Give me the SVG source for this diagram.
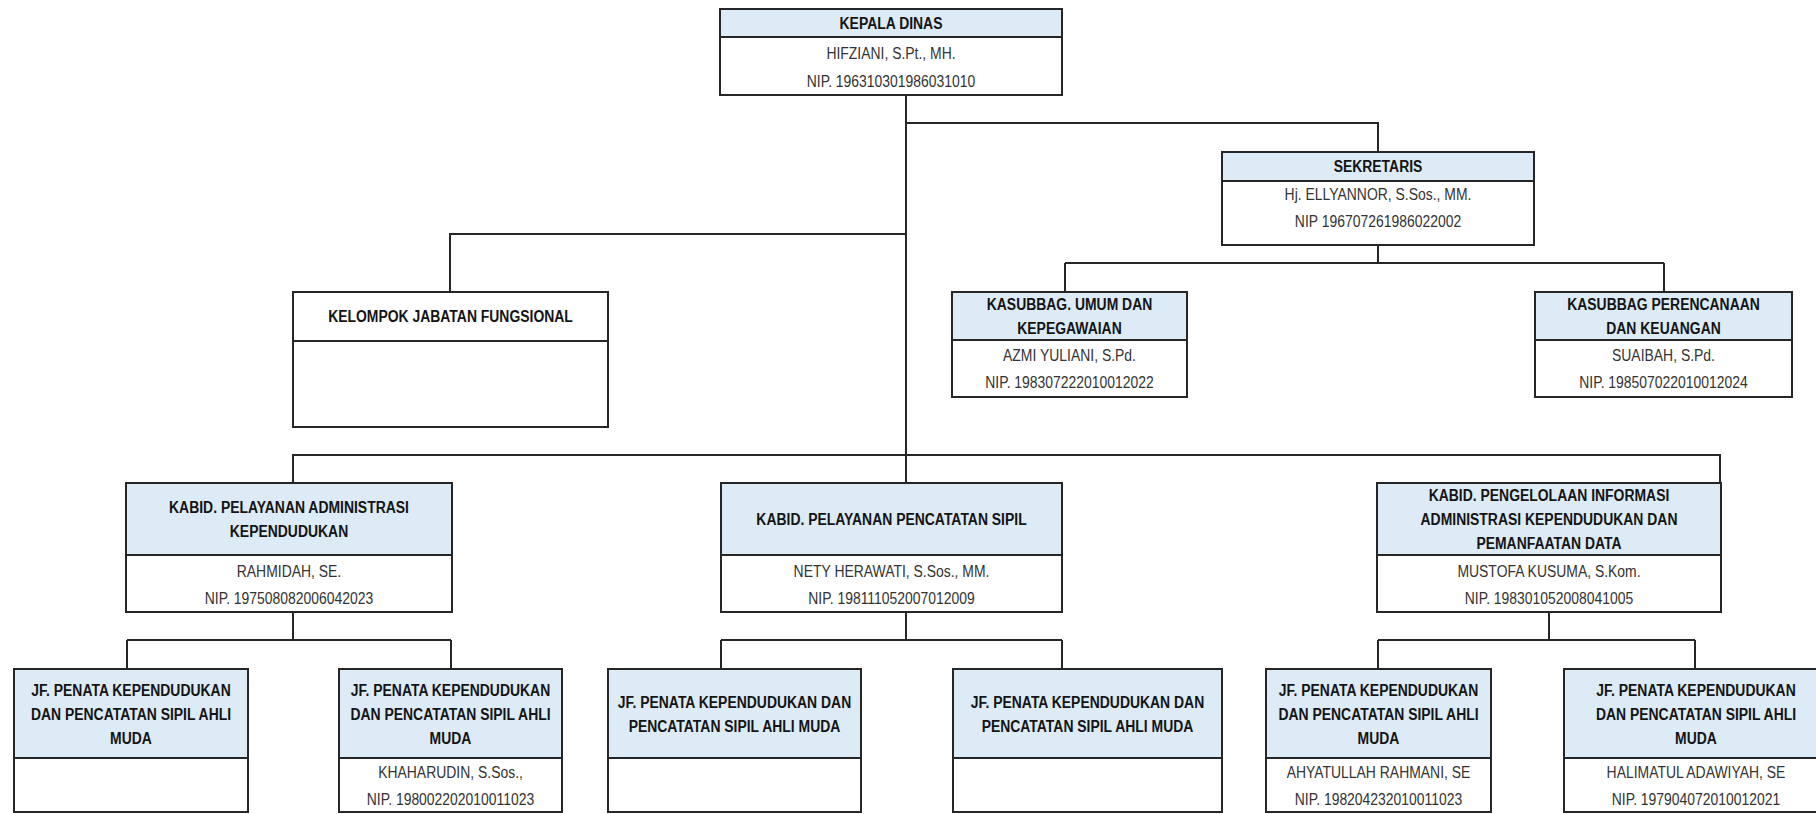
<svg xmlns="http://www.w3.org/2000/svg" width="1816" height="814" viewBox="0 0 1816 814">
<style>
.b{fill:#fff;stroke:#262626;stroke-width:2}
.h{fill:#DDEBF7;stroke:#262626;stroke-width:2}
.c{stroke:#262626;stroke-width:2;fill:none}
.t{font-family:"Liberation Sans",Arial,sans-serif;font-size:17px;fill:#333;text-anchor:middle}
.tb{font-weight:bold;fill:#141414}
</style>
<rect width="1816" height="814" fill="#fff"/>
<g id="connectors" class="c">
<path d="M906 95V483"/>
<path d="M906 123H1378V152"/>
<path d="M906 234H450V292"/>
<path d="M1378 245V263M1065 263H1664M1065 263V292M1664 263V292"/>
<path d="M293 483V455H1720V483"/>
<path d="M293 612V640M127 640H451M127 640V669M451 640V669"/>
<path d="M906 612V640M721 640H1062M721 640V669M1062 640V669"/>
<path d="M1549 612V640M1378 640H1695M1378 640V669M1695 640V669"/>
</g>
<g id="kepala">
<rect class="b" x="720" y="9" width="342" height="86"/>
<rect class="h" x="720" y="9" width="342" height="28"/>
<text class="t tb" transform="translate(891 29) scale(0.82 1)">KEPALA DINAS</text>
<text class="t" transform="translate(891 59) scale(0.82 1)">HIFZIANI, S.Pt., MH.</text>
<text class="t" transform="translate(891 87) scale(0.82 1)">NIP. 196310301986031010</text>
</g>
<g id="sekretaris">
<rect class="b" x="1222" y="152" width="312" height="93"/>
<rect class="h" x="1222" y="152" width="312" height="29"/>
<text class="t tb" transform="translate(1378 172) scale(0.82 1)">SEKRETARIS</text>
<text class="t" transform="translate(1378 200) scale(0.82 1)">Hj. ELLYANNOR, S.Sos., MM.</text>
<text class="t" transform="translate(1378 227) scale(0.82 1)">NIP 196707261986022002</text>
</g>
<g id="kelompok">
<rect class="b" x="293" y="292" width="315" height="135"/>
<line class="c" x1="293" y1="341" x2="608" y2="341"/>
<text class="t tb" transform="translate(450.5 322) scale(0.82 1)">KELOMPOK JABATAN FUNGSIONAL</text>
</g>
<g id="kasubbag-umum">
<rect class="b" x="952" y="292" width="235" height="105"/>
<rect class="h" x="952" y="292" width="235" height="48"/>
<text class="t tb" transform="translate(1069.5 310) scale(0.82 1)">KASUBBAG. UMUM DAN</text>
<text class="t tb" transform="translate(1069.5 334) scale(0.82 1)">KEPEGAWAIAN</text>
<text class="t" transform="translate(1069.5 361) scale(0.82 1)">AZMI YULIANI, S.Pd.</text>
<text class="t" transform="translate(1069.5 388) scale(0.82 1)">NIP. 198307222010012022</text>
</g>
<g id="kasubbag-perencanaan">
<rect class="b" x="1535" y="292" width="257" height="105"/>
<rect class="h" x="1535" y="292" width="257" height="48"/>
<text class="t tb" transform="translate(1663.5 310) scale(0.82 1)">KASUBBAG PERENCANAAN</text>
<text class="t tb" transform="translate(1663.5 334) scale(0.82 1)">DAN KEUANGAN</text>
<text class="t" transform="translate(1663.5 361) scale(0.82 1)">SUAIBAH, S.Pd.</text>
<text class="t" transform="translate(1663.5 388) scale(0.82 1)">NIP. 198507022010012024</text>
</g>
<g id="kabid-adminduk">
<rect class="b" x="126" y="483" width="326" height="129"/>
<rect class="h" x="126" y="483" width="326" height="72"/>
<text class="t tb" transform="translate(289 513) scale(0.82 1)">KABID. PELAYANAN ADMINISTRASI</text>
<text class="t tb" transform="translate(289 537) scale(0.82 1)">KEPENDUDUKAN</text>
<text class="t" transform="translate(289 577) scale(0.82 1)">RAHMIDAH, SE.</text>
<text class="t" transform="translate(289 604) scale(0.82 1)">NIP. 197508082006042023</text>
</g>
<g id="kabid-capil">
<rect class="b" x="721" y="483" width="341" height="129"/>
<rect class="h" x="721" y="483" width="341" height="72"/>
<text class="t tb" transform="translate(891.5 525) scale(0.82 1)">KABID. PELAYANAN PENCATATAN SIPIL</text>
<text class="t" transform="translate(891.5 577) scale(0.82 1)">NETY HERAWATI, S.Sos., MM.</text>
<text class="t" transform="translate(891.5 604) scale(0.82 1)">NIP. 198111052007012009</text>
</g>
<g id="kabid-piak">
<rect class="b" x="1377" y="483" width="344" height="129"/>
<rect class="h" x="1377" y="483" width="344" height="72"/>
<text class="t tb" transform="translate(1549 501) scale(0.82 1)">KABID. PENGELOLAAN INFORMASI</text>
<text class="t tb" transform="translate(1549 525) scale(0.82 1)">ADMINISTRASI KEPENDUDUKAN DAN</text>
<text class="t tb" transform="translate(1549 549) scale(0.82 1)">PEMANFAATAN DATA</text>
<text class="t" transform="translate(1549 577) scale(0.82 1)">MUSTOFA KUSUMA, S.Kom.</text>
<text class="t" transform="translate(1549 604) scale(0.82 1)">NIP. 198301052008041005</text>
</g>
<g id="jf-a">
<rect class="b" x="14" y="669" width="234" height="143"/>
<rect class="h" x="14" y="669" width="234" height="89"/>
<text class="t tb" transform="translate(131 696) scale(0.82 1)">JF. PENATA KEPENDUDUKAN</text>
<text class="t tb" transform="translate(131 720) scale(0.82 1)">DAN PENCATATAN SIPIL AHLI</text>
<text class="t tb" transform="translate(131 744) scale(0.82 1)">MUDA</text>
</g>
<g id="jf-b">
<rect class="b" x="339" y="669" width="223" height="143"/>
<rect class="h" x="339" y="669" width="223" height="89"/>
<text class="t tb" transform="translate(450.5 696) scale(0.82 1)">JF. PENATA KEPENDUDUKAN</text>
<text class="t tb" transform="translate(450.5 720) scale(0.82 1)">DAN PENCATATAN SIPIL AHLI</text>
<text class="t tb" transform="translate(450.5 744) scale(0.82 1)">MUDA</text>
<text class="t" transform="translate(450.5 778) scale(0.82 1)">KHAHARUDIN, S.Sos.,</text>
<text class="t" transform="translate(450.5 805) scale(0.82 1)">NIP. 198002202010011023</text>
</g>
<g id="jf-c">
<rect class="b" x="608" y="669" width="253" height="143"/>
<rect class="h" x="608" y="669" width="253" height="89"/>
<text class="t tb" transform="translate(734.5 707.5) scale(0.82 1)">JF. PENATA KEPENDUDUKAN DAN</text>
<text class="t tb" transform="translate(734.5 731.5) scale(0.82 1)">PENCATATAN SIPIL AHLI MUDA</text>
</g>
<g id="jf-d">
<rect class="b" x="953" y="669" width="269" height="143"/>
<rect class="h" x="953" y="669" width="269" height="89"/>
<text class="t tb" transform="translate(1087.5 707.5) scale(0.82 1)">JF. PENATA KEPENDUDUKAN DAN</text>
<text class="t tb" transform="translate(1087.5 731.5) scale(0.82 1)">PENCATATAN SIPIL AHLI MUDA</text>
</g>
<g id="jf-e">
<rect class="b" x="1266" y="669" width="225" height="143"/>
<rect class="h" x="1266" y="669" width="225" height="89"/>
<text class="t tb" transform="translate(1378.5 696) scale(0.82 1)">JF. PENATA KEPENDUDUKAN</text>
<text class="t tb" transform="translate(1378.5 720) scale(0.82 1)">DAN PENCATATAN SIPIL AHLI</text>
<text class="t tb" transform="translate(1378.5 744) scale(0.82 1)">MUDA</text>
<text class="t" transform="translate(1378.5 778) scale(0.82 1)">AHYATULLAH RAHMANI, SE</text>
<text class="t" transform="translate(1378.5 805) scale(0.82 1)">NIP. 198204232010011023</text>
</g>
<g id="jf-f">
<rect class="b" x="1564" y="669" width="264" height="143"/>
<rect class="h" x="1564" y="669" width="264" height="89"/>
<text class="t tb" transform="translate(1696 696) scale(0.82 1)">JF. PENATA KEPENDUDUKAN</text>
<text class="t tb" transform="translate(1696 720) scale(0.82 1)">DAN PENCATATAN SIPIL AHLI</text>
<text class="t tb" transform="translate(1696 744) scale(0.82 1)">MUDA</text>
<text class="t" transform="translate(1696 778) scale(0.82 1)">HALIMATUL ADAWIYAH, SE</text>
<text class="t" transform="translate(1696 805) scale(0.82 1)">NIP. 197904072010012021</text>
</g>
</svg>
